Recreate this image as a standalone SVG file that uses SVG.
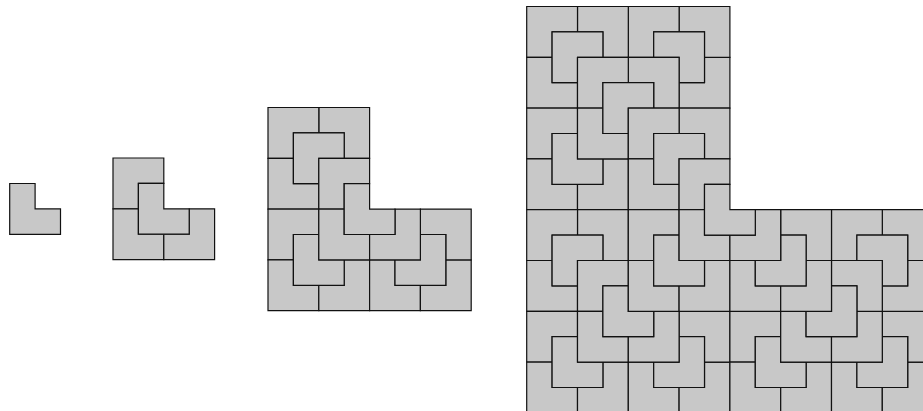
<svg xmlns="http://www.w3.org/2000/svg" width="923" height="411" viewBox="0 0 923 411">
  <style>
    .tile { fill: #c8c8c8; stroke: #111; stroke-width: 1.2; stroke-linejoin: miter; }
  </style>
  <defs>
    <!-- basic L tromino, missing top-right cell, cell 25.4 -->
    <path id="t1" class="tile" d="M0,0 H25.4 V25.4 H50.8 V50.8 H0 Z"/>
    <g id="p2">
      <use href="#t1" transform="rotate(90 25.4 25.4)"/>
      <use href="#t1" transform="translate(0 50.8)"/>
      <use href="#t1" transform="translate(50.8 50.8) rotate(-90 25.4 25.4)"/>
      <use href="#t1" transform="translate(25.4 25.4)"/>
    </g>
    <g id="p3">
      <use href="#p2" transform="rotate(90 50.8 50.8)"/>
      <use href="#p2" transform="translate(0 101.6)"/>
      <use href="#p2" transform="translate(101.6 101.6) rotate(-90 50.8 50.8)"/>
      <use href="#p2" transform="translate(50.8 50.8)"/>
    </g>
    <g id="p4">
      <use href="#p3" transform="rotate(90 101.6 101.6)"/>
      <use href="#p3" transform="translate(0 203.2)"/>
      <use href="#p3" transform="translate(203.2 203.2) rotate(-90 101.6 101.6)"/>
      <use href="#p3" transform="translate(101.6 101.6)"/>
    </g>
  </defs>
  <g id="level1" transform="translate(9.7 183.5)">
    <use href="#t1"/>
  </g>
  <g id="level2" transform="translate(113 158)">
    <use href="#p2"/>
  </g>
  <g id="level3" transform="translate(268 107.5)">
    <use href="#p3"/>
  </g>
  <g id="level4" transform="translate(526.7 6.5)">
    <use href="#p4"/>
  </g>
</svg>
